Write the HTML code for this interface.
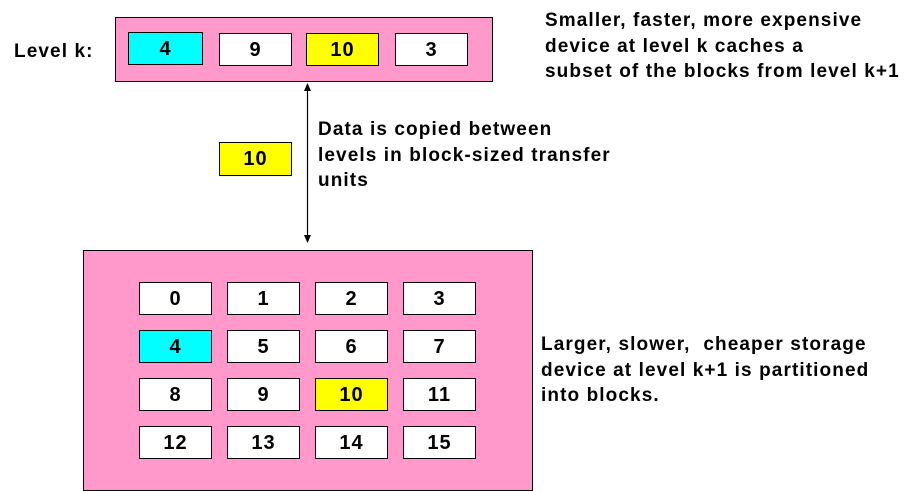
<!DOCTYPE html>
<html><head><meta charset="utf-8"><style>
body{margin:0;width:913px;height:491px;background:#fff;overflow:hidden;position:relative;font-family:"Liberation Sans",sans-serif;font-weight:bold;}
.box{position:absolute;background:#FF99CC;border:1.5px solid #000;box-sizing:border-box;}
.blk{position:absolute;width:73px;height:33px;border:1.5px solid #000;box-sizing:border-box;background:#fff;font-size:20px;letter-spacing:1px;text-align:center;line-height:32px;}
.txt{position:absolute;font-size:19px;letter-spacing:1.1px;line-height:25.5px;white-space:nowrap;}
</style></head><body>
<div class="txt" style="left:14px;top:39px;">Level k:</div>
<div class="box" style="left:115px;top:17px;width:378px;height:65px;"></div>
<div class="blk" style="left:128px;top:32px;width:75px;background:#00FFFF;">4</div>
<div class="blk" style="left:219px;top:33px;">9</div>
<div class="blk" style="left:306px;top:33px;background:#FFFF00;">10</div>
<div class="blk" style="left:395px;top:33px;">3</div>
<div class="txt" style="left:545px;top:8px;">Smaller, faster, more expensive<br>device at level k caches a<br>subset of the blocks from level k+1</div>
<svg style="position:absolute;left:0;top:0" width="913" height="491">
<line x1="307.5" y1="88" x2="307.5" y2="238" stroke="#000" stroke-width="1.2"/>
<polygon points="307.5,83 304,91 311,91" fill="#000"/>
<polygon points="307.5,243 304,235 311,235" fill="#000"/>
</svg>
<div class="blk" style="left:219px;top:142px;height:34px;background:#FFFF00;">10</div>
<div class="txt" style="left:318px;top:117px;">Data is copied between<br>levels in block-sized transfer<br>units</div>
<div class="box" style="left:83px;top:250px;width:450px;height:241px;"></div>
<div id="grid"></div>
<div class="txt" style="left:541px;top:332px;">Larger, slower,&nbsp; cheaper storage<br>device at level k+1 is partitioned<br>into blocks.</div>
<script>
const blockIds=[0,1,2,3,4,5,6,7,8,9,10,11,12,13,14,15];
const cached=[4,10];
const colors={4:'#00FFFF',10:'#FFFF00'};
const g=document.getElementById('grid');
blockIds.forEach(function(id){
 const d=document.createElement('div');
 d.className='blk';
 
 
 const c=id%4,r=Math.floor(id/4);
 d.style.left=(139+c*88)+'px';
 d.style.top=(282+r*48)+'px';
 if(colors[id])d.style.background=colors[id];
 d.textContent=id;
 g.appendChild(d);
});
</script>
</body></html>
